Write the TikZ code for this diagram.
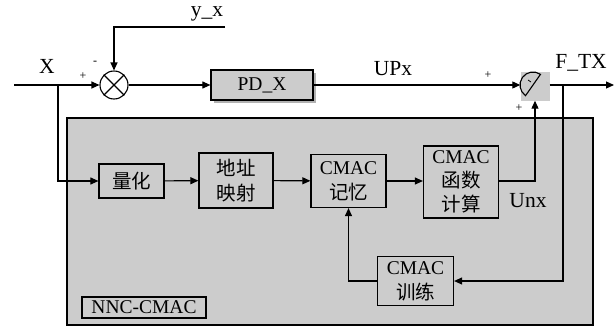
\documentclass[tikz,border=0pt]{standalone}
\usepackage{fontspec}
\setmainfont{Liberation Serif}
\newfontfamily\cjk{Noto Sans CJK SC}
\usetikzlibrary{arrows.meta, calc, shadows}
\definecolor{panelgrey}{HTML}{CCCCCC}
\tikzset{
  block/.style={rectangle, draw, line width=1.2pt, fill=panelgrey, align=center,
    inner sep=0pt, font=\fontsize{19.5}{25}\selectfont},
  blockpd/.style={block, drop shadow={shadow xshift=2.5pt, shadow yshift=-2.5pt,
    fill=black!30, opacity=1}},
  sumnode/.style={circle, draw, line width=1.1pt, fill=white, minimum size=28pt, inner sep=0pt},
  arrow/.style={-{Triangle[length=8pt, width=7pt]}, line width=1.1pt},
  wire/.style={line width=1.1pt},
  signal/.style={font=\fontsize{21.5}{24}\selectfont, inner sep=0pt},
  sign/.style={font=\fontsize{12}{14}\selectfont, inner sep=0pt},
}

\begin{document}
\begin{tikzpicture}[x=1pt, y=-1pt]
\useasboundingbox (0,0) rectangle (614,327);
% NNC-CMAC panel
\node[block, minimum width=526pt, minimum height=207pt] (panel) at (330,221.5) {};
\node[block, minimum width=124pt, minimum height=21pt] (tag) at (144,307.5) {NNC-CMAC};
\node[block, minimum width=65pt, minimum height=34pt] (quant) at (131.5,181) {{\cjk 量化}};
\node[block, minimum width=74pt, minimum height=55pt] (addr) at (236,180.5) {{\cjk 地址}\\{\cjk 映射}};
\node[block, minimum width=75pt, minimum height=53pt] (mem) at (348.5,181) {CMAC\\{\cjk 记忆}};
\node[block, minimum width=75pt, minimum height=72pt, font=\fontsize{19.5}{24}\selectfont] (func) at (461,182) {CMAC\\{\cjk 函数}\\{\cjk 计算}};
\node[block, minimum width=76pt, minimum height=49pt] (train) at (415.5,281) {CMAC\\{\cjk 训练}};

% forward path
\node[blockpd, minimum width=102pt, minimum height=30pt] (pd) at (262,85) {PD\_X};
\node[sumnode] (sum1) at (114,85) {};
\draw[wire] (sum1.north west) -- (sum1.south east);
\draw[wire] (sum1.north east) -- (sum1.south west);
\node[fill=panelgrey, minimum size=29pt, inner sep=0pt] (sum2) at (535,86) {};
\draw[wire] ($(sum2.center)+(-2,-1)$) ++(125:13) arc[start angle=125, end angle=305, radius=13] -- cycle;
\draw[line width=0.8pt] ($(sum2.center)+(-7,-6)$) -- ++(3,2);

\coordinate (xin) at (14,85);
\coordinate (xsplit) at (58,85);
\coordinate (yx) at (225,27);
\coordinate (fsplit) at (563,85);
\coordinate (fout) at (614,85);

\draw[arrow] (xin) -- (sum1.west);
\draw[arrow] (xsplit) |- (quant.west);
\draw[arrow] (yx) -| (sum1.north);
\draw[arrow] (sum1.east) -- (pd.west);
\draw[arrow] (pd.east) -- (pd.east -| sum2.west);
\draw[arrow] (sum2.east |- fout) -- (fout);
\draw[arrow] (fsplit) |- (train.east);
\draw[arrow] (quant) -- (addr);
\draw[arrow] (addr) -- (mem);
\draw[arrow] (mem) -- (func.west |- mem);
\draw[arrow] (func.east |- mem) -| (sum2.south);
\draw[arrow] (train.west) -| (mem.south);

% labels
\node[signal] (lx) at (47,66) {X};
\node[signal] (lyx) at (207,14) {y\_x};
\node[signal] (lupx) at (393,69) {UPx};
\node[signal] (lftx) at (581,63) {F\_TX};
\node[signal] (lunx) at (528,201) {Unx};
\node[sign] (p1) at (83,76) {+};
\node[sign] (m1) at (95,63) {-};
\node[sign] (p2) at (488,75) {+};
\node[sign] (p3) at (519,108) {+};
\end{tikzpicture}
\end{document}
